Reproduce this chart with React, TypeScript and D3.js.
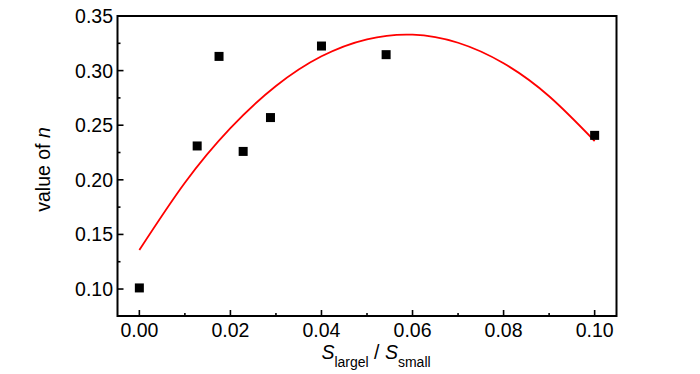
import React from "react";
import * as d3 from "d3";

const pointX = [0.0, 0.0127, 0.0175, 0.0228, 0.0288, 0.04, 0.0542, 0.1];
const pointY = [0.101, 0.231, 0.313, 0.226, 0.257, 0.3225, 0.3146, 0.2407];

const fitX = [0.0, 0.01, 0.02, 0.03, 0.04, 0.05, 0.06, 0.07, 0.08, 0.09, 0.1];
const fitY = [0.1357, 0.1973, 0.2473, 0.2859, 0.3131, 0.3287, 0.3329, 0.3255, 0.3067, 0.2765, 0.2355];

const xTicks = [0.0, 0.02, 0.04, 0.06, 0.08, 0.1];
const xMinor = [0.01, 0.03, 0.05, 0.07, 0.09];
const yTicks = [0.1, 0.15, 0.2, 0.25, 0.3, 0.35];
const yMinor = [0.125, 0.175, 0.225, 0.275, 0.325];

const W = 700;
const H = 374;
const L = 117.5, R = 616.5, T = 16, B = 316;
const FONT = "'Liberation Sans', Arial, sans-serif";

export default function App() {
  const x = d3.scaleLinear().domain([-0.0048, 0.1048]).range([L, R]);
  const y = d3.scaleLinear().domain([0.0753, 0.35]).range([B, T]);
  const line = d3
    .line<number>()
    .x((_, i) => x(fitX[i]))
    .y((d) => y(d))
    .curve(d3.curveNatural);

  return (
    <svg width={W} height={H} style={{ position: "absolute", left: 0, top: 0, background: "#fff" }}>
      <rect x={0} y={0} width={W} height={H} fill="#fff" />
      <path d={line(fitY) || ""} fill="none" stroke="#ff0000" strokeWidth={1.8} />
      {pointX.map((px, i) => (
        <rect key={i} x={x(px) - 4.5} y={y(pointY[i]) - 4.5} width={9} height={9} fill="#000" />
      ))}
      <rect x={L} y={T} width={R - L} height={B - T} fill="none" stroke="#000" strokeWidth={2} />
      {xTicks.map((t) => (
        <g key={"x" + t}>
          <line x1={x(t)} x2={x(t)} y1={B} y2={B - 6} stroke="#000" strokeWidth={1.6} />
          <text x={x(t)} y={337} textAnchor="middle" fontFamily={FONT} fontSize={19.5}>
            {t.toFixed(2)}
          </text>
        </g>
      ))}
      {xMinor.map((t) => (
        <line key={"xm" + t} x1={x(t)} x2={x(t)} y1={B} y2={B - 3} stroke="#000" strokeWidth={1.6} />
      ))}
      {yTicks.map((t) => (
        <g key={"y" + t}>
          <line x1={L} x2={L + 6} y1={y(t)} y2={y(t)} stroke="#000" strokeWidth={1.6} />
          <text x={113} y={y(t) + 7} textAnchor="end" fontFamily={FONT} fontSize={19.5}>
            {t.toFixed(2)}
          </text>
        </g>
      ))}
      {yMinor.map((t) => (
        <line key={"ym" + t} x1={L} x2={L + 3} y1={y(t)} y2={y(t)} stroke="#000" strokeWidth={1.6} />
      ))}
      <text
        transform={`translate(50, 169.5) rotate(-90)`}
        textAnchor="middle"
        fontFamily={FONT}
        fontSize={19.5}
      >
        value of <tspan fontStyle="italic">n</tspan>
      </text>
      <text x={(L + R) / 2 + 9} y={359} textAnchor="middle" fontFamily={FONT} fontSize={19.5}>
        <tspan fontStyle="italic">S</tspan>
        <tspan fontSize={14} dy={8}>largel</tspan>
        <tspan dy={-8}> / </tspan>
        <tspan fontStyle="italic">S</tspan>
        <tspan fontSize={14} dy={8}>small</tspan>
      </text>
    </svg>
  );
}
